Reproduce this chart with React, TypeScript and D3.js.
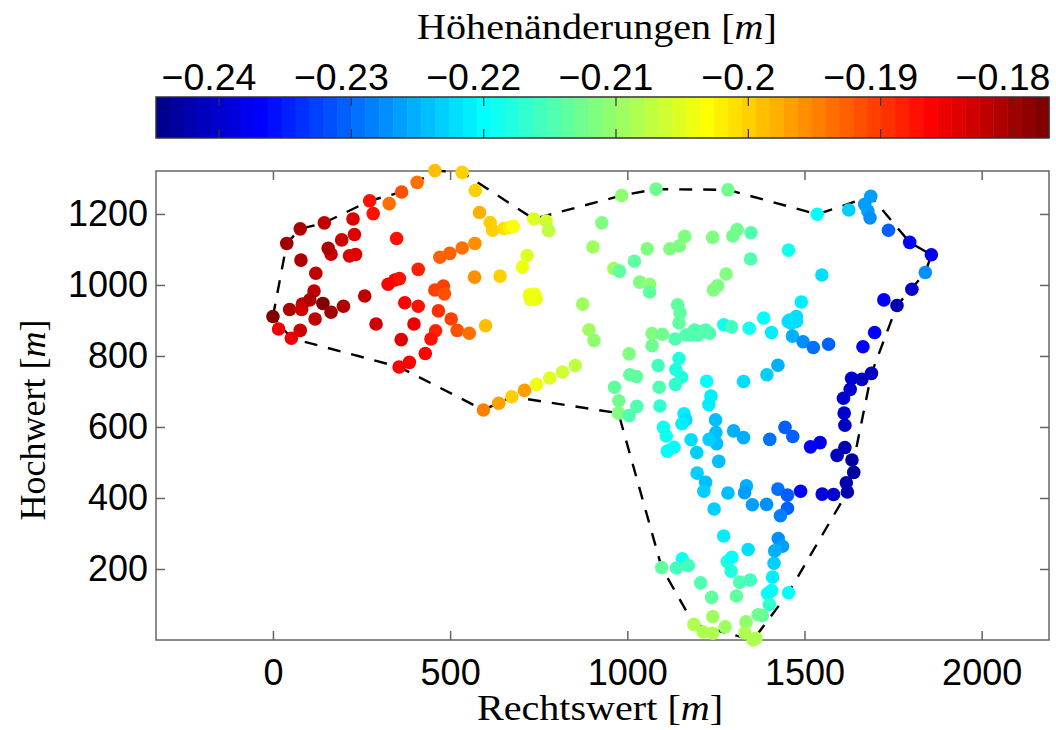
import React, { useEffect, useRef } from 'react';
import * as d3 from 'd3';

// Messpunkte: [Rechtswert, Hochwert, Hoehenaenderung]
const westPunkte: number[][] = [
  [457, 1322, -0.199], [534, 1317, -0.1995], [407, 1289, -0.194], [363, 1262, -0.192], [328, 1229, -0.194],
  [273, 1237, -0.187], [283, 1201, -0.187], [226, 1186, -0.184], [145, 1175, -0.182], [77, 1158, -0.181],
  [39, 1117, -0.18], [230, 1142, -0.184], [194, 1127, -0.183], [164, 1087, -0.183], [156, 1103, -0.1805],
  [216, 1082, -0.184], [233, 1086, -0.184], [79, 1070, -0.181], [121, 1033, -0.1815], [116, 983, -0.182],
  [83, 946, -0.1825], [104, 958, -0.1805], [47, 931, -0.181], [81, 931, -0.183], [141, 948, -0.178],
  [164, 923, -0.18], [199, 940, -0.1805], [119, 904, -0.182], [16, 876, -0.185], [77, 872, -0.1835],
  [52, 850, -0.185], [0, 911, -0.178], [259, 969, -0.1815], [291, 890, -0.183], [349, 1131, -0.187],
  [410, 1044, -0.188], [325, 1002, -0.186], [344, 1014, -0.186], [357, 1018, -0.187], [372, 950, -0.186],
  [410, 940, -0.187], [398, 890, -0.185], [362, 846, -0.1845], [459, 871, -0.188], [446, 848, -0.187],
  [430, 807, -0.186], [385, 782, -0.1865], [356, 769, -0.186], [467, 927, -0.189], [503, 904, -0.19],
  [520, 872, -0.191], [554, 864, -0.1935], [600, 885, -0.199], [457, 986, -0.19], [481, 997, -0.19],
  [484, 975, -0.192], [471, 1078, -0.1925], [499, 1089, -0.193], [534, 1104, -0.194], [570, 1117, -0.196],
  [569, 1022, -0.196], [641, 1025, -0.1995], [571, 1266, -0.1995], [583, 1204, -0.198], [613, 1176, -0.1995],
  [620, 1154, -0.1995], [652, 1159, -0.2015], [667, 1161, -0.2025], [678, 1165, -0.203], [736, 1186, -0.205],
  [717, 1083, -0.205], [704, 1051, -0.2045], [727, 959, -0.204], [739, 974, -0.204], [743, 961, -0.204],
  [724, 972, -0.204], [594, 648, -0.195], [637, 667, -0.197], [674, 685, -0.1995], [710, 703, -0.197],
  [744, 720, -0.2045], [781, 738, -0.2055], [817, 755, -0.206], [853, 773, -0.2075],
];

const mittePunkte: number[][] = [
  [771, 1180, -0.2065], [778, 1153, -0.207], [928, 1175, -0.2115], [903, 1107, -0.209], [984, 1252, -0.2105],
  [1081, 1270, -0.2125], [1284, 1268, -0.2125], [962, 1046, -0.209], [978, 1039, -0.214], [1020, 1067, -0.214],
  [1056, 1102, -0.2115], [1120, 1102, -0.2115], [1147, 1110, -0.2115], [1162, 1137, -0.2115], [1241, 1134, -0.2115],
  [1298, 1138, -0.2125], [1310, 1156, -0.2125], [1349, 1147, -0.215], [1348, 1073, -0.215], [1279, 1031, -0.2115],
  [1255, 998, -0.2115], [1243, 986, -0.2115], [1035, 1008, -0.2115], [1063, 1002, -0.2105], [1063, 980, -0.214],
  [1142, 944, -0.214], [1149, 921, -0.214], [1146, 893, -0.214], [874, 946, -0.209], [892, 874, -0.209],
  [906, 844, -0.2105], [1070, 863, -0.2115], [1099, 861, -0.2125], [1070, 829, -0.2125], [1005, 806, -0.2115],
  [1135, 848, -0.215], [1166, 859, -0.215], [1180, 859, -0.215], [1190, 873, -0.215], [1199, 859, -0.215],
  [1185, 866, -0.215], [1206, 868, -0.215], [1224, 868, -0.2145], [1232, 864, -0.2145], [1221, 873, -0.2145],
  [1272, 888, -0.2185], [1294, 882, -0.216], [1344, 878, -0.219], [1007, 747, -0.214], [1026, 742, -0.214],
  [964, 712, -0.214], [976, 674, -0.2125], [975, 639, -0.2115], [1027, 658, -0.215], [1005, 632, -0.215],
  [1092, 659, -0.2165], [1090, 712, -0.215], [1087, 773, -0.2155], [1146, 793, -0.2175], [1137, 762, -0.2175],
  [1153, 740, -0.2175], [1136, 720, -0.2165],
];

const ostPunkte: number[][] = [
  [1385, 907, -0.2205], [1407, 866, -0.2215], [1491, 952, -0.2215], [1458, 901, -0.2225], [1477, 911, -0.2225],
  [1463, 892, -0.2225], [1477, 897, -0.2225], [1454, 897, -0.2225], [1466, 856, -0.225], [1496, 840, -0.227],
  [1525, 824, -0.229], [1568, 833, -0.23], [1724, 958, -0.2365], [1761, 942, -0.242], [1698, 866, -0.237],
  [1665, 826, -0.237], [1689, 751, -0.2415], [1662, 734, -0.241], [1633, 737, -0.24], [1629, 706, -0.24],
  [1610, 681, -0.2395], [1612, 639, -0.24], [1614, 605, -0.241], [1614, 542, -0.242], [1592, 520, -0.2415],
  [1634, 507, -0.2435], [1639, 472, -0.2435], [1618, 443, -0.242], [1544, 556, -0.238], [1517, 544, -0.2365],
  [1467, 573, -0.231], [1445, 599, -0.231], [1402, 565, -0.229], [1328, 570, -0.225], [1300, 589, -0.225],
  [1536, 1199, -0.2195], [1625, 1211, -0.223], [1687, 1250, -0.2265], [1670, 1227, -0.2265], [1679, 1208, -0.226],
  [1685, 1189, -0.227], [1737, 1154, -0.23], [1797, 1120, -0.2365], [1858, 1085, -0.2375], [1841, 1035, -0.227],
  [1803, 988, -0.2395], [1455, 1098, -0.2185], [1549, 1028, -0.222], [1224, 729, -0.2205], [1236, 687, -0.2215],
  [1230, 663, -0.2215], [1328, 728, -0.222], [1394, 747, -0.2235], [1425, 774, -0.225],
];

const suedPunkte: number[][] = [
  [1249, 620, -0.224], [1250, 584, -0.224], [1252, 553, -0.224], [1231, 565, -0.223], [1258, 503, -0.224],
  [1196, 528, -0.223], [1180, 564, -0.222], [1197, 470, -0.223], [1221, 444, -0.224], [1160, 637, -0.2215],
  [1165, 620, -0.222], [1154, 609, -0.2215], [1102, 599, -0.2185], [1110, 575, -0.219], [1132, 543, -0.2195],
  [1113, 532, -0.2195], [1216, 419, -0.2235], [1284, 414, -0.2245], [1336, 434, -0.225], [1331, 415, -0.226],
  [1425, 425, -0.229], [1452, 408, -0.231], [1489, 419, -0.2365], [1550, 411, -0.2385], [1582, 410, -0.2395],
  [1621, 417, -0.242], [1353, 381, -0.226], [1393, 382, -0.227], [1452, 371, -0.23], [1432, 350, -0.2285],
  [1245, 369, -0.223], [1272, 293, -0.2215], [1341, 255, -0.222], [1426, 286, -0.227], [1438, 264, -0.2265],
  [1416, 251, -0.225], [1414, 216, -0.2235], [1410, 177, -0.2215], [1407, 139, -0.2205], [1396, 131, -0.2205],
  [1455, 133, -0.2195], [1401, 100, -0.2165], [1381, 69, -0.214], [1369, 71, -0.2125], [1335, 51, -0.2105],
  [1332, 20, -0.208], [1363, 5, -0.208], [1355, 0, -0.208], [1276, 37, -0.209], [1241, 66, -0.2095],
  [1188, 44, -0.208], [1214, 23, -0.208], [1241, 19, -0.208], [1238, 120, -0.214], [1308, 124, -0.214],
  [1207, 161, -0.215], [1317, 163, -0.215], [1347, 169, -0.216], [1293, 194, -0.218], [1282, 221, -0.2175],
  [1295, 233, -0.2205], [1155, 229, -0.2185], [1172, 210, -0.216], [1139, 203, -0.2155], [1097, 204, -0.214],
];

// gestrichelte Umrandung
const umrandung: number[][] = [
  [0, 911], [39, 1117], [77, 1158], [145, 1175], [273, 1237], [363, 1262], [457, 1322], [534, 1317],
  [736, 1186], [984, 1252], [1081, 1270], [1284, 1268], [1536, 1199], [1687, 1250], [1797, 1120], [1858, 1085],
  [1841, 1035], [1761, 942], [1689, 751], [1621, 417], [1455, 133], [1355, 0], [1188, 44], [1097, 204],
  [975, 639], [674, 685], [594, 648], [356, 769], [52, 850], [0, 911],
];

const xTicks = [0, 500, 1000, 1500, 2000];
const yTicks = [200, 400, 600, 800, 1000, 1200];
const cTicks = [-0.24, -0.23, -0.22, -0.21, -0.2, -0.19, -0.18];

const jet = (i: number, n: number) => {
  const t = (i + 1) / n;
  const c = (v: number) => Math.round(255 * Math.max(0, Math.min(1, v)));
  const f = (o: number) => c(Math.min(4 * t - o, -4 * t + o + 3));
  return d3.rgb(f(1.5), f(0.5), f(-0.5)).formatHex();
};

const App = () => {
  const ref = useRef<SVGSVGElement>(null);

  useEffect(() => {
    const svg = d3.select(ref.current);
    svg.selectAll('*').remove();

    const sans = '"Liberation Sans", Arial, sans-serif';
    const serif = '"Liberation Serif", serif';
    const plot = { left: 156, right: 1049, top: 171, bottom: 640 };
    const bar = { top: 97, bottom: 138 };

    const x = d3.scaleLinear().domain([-330, 2190]).range([plot.left, plot.right]);
    const y = d3.scaleLinear().domain([0, 1321]).range([plot.bottom, plot.top]);

    const jetColors = d3.range(64).map((i) => jet(i, 64));
    const color = d3.scaleQuantize<string>().domain([-0.24476, -0.17728]).range(jetColors);
    const cx = d3.scaleLinear().domain([-0.24476, -0.17728]).range([plot.left, plot.right]);
    const band = d3.scaleBand<number>().domain(d3.range(64)).range([plot.left, plot.right]);

    // Farbleiste
    svg.append('g')
      .selectAll('rect')
      .data(d3.range(64))
      .join('rect')
      .attr('x', (d) => band(d)!)
      .attr('y', bar.top)
      .attr('width', band.bandwidth() + 0.5)
      .attr('height', bar.bottom - bar.top)
      .attr('fill', (d) => jetColors[d]);

    svg.append('rect')
      .attr('x', plot.left)
      .attr('y', bar.top)
      .attr('width', plot.right - plot.left)
      .attr('height', bar.bottom - bar.top)
      .attr('fill', 'none')
      .attr('stroke', '#333')
      .attr('stroke-width', 1.5);

    const cAxis = svg.append('g');
    cTicks.forEach((t) => {
      const px = cx(t);
      cAxis.append('line').attr('x1', px).attr('x2', px).attr('y1', bar.top).attr('y2', bar.top + 9).attr('stroke', '#333').attr('stroke-width', 1.2);
      cAxis.append('line').attr('x1', px).attr('x2', px).attr('y1', bar.bottom).attr('y2', bar.bottom - 9).attr('stroke', '#333').attr('stroke-width', 1.2);
      cAxis.append('text')
        .attr('x', px - 10)
        .attr('y', 90)
        .attr('text-anchor', 'middle')
        .attr('font-family', sans)
        .attr('font-size', 37.5)
        .text(String(t).replace('-', '\u2212'));
    });

    // Rahmen
    svg.append('rect')
      .attr('x', plot.left)
      .attr('y', plot.top)
      .attr('width', plot.right - plot.left)
      .attr('height', plot.bottom - plot.top)
      .attr('fill', 'none')
      .attr('stroke', '#666')
      .attr('stroke-width', 1.5);

    const xAxis = svg.append('g')
      .attr('transform', `translate(0,${plot.bottom})`)
      .call(d3.axisBottom(x).tickValues(xTicks).tickSize(-9).tickPadding(19).tickFormat(d3.format('d') as any));
    const xAxisTop = svg.append('g')
      .attr('transform', `translate(0,${plot.top})`)
      .call(d3.axisTop(x).tickValues(xTicks).tickSize(-9).tickFormat(() => ''));
    const yAxis = svg.append('g')
      .attr('transform', `translate(${plot.left},0)`)
      .call(d3.axisLeft(y).tickValues(yTicks).tickSize(-9).tickPadding(8).tickFormat(d3.format('d') as any));
    const yAxisRight = svg.append('g')
      .attr('transform', `translate(${plot.right},0)`)
      .call(d3.axisRight(y).tickValues(yTicks).tickSize(-9).tickFormat(() => ''));

    [xAxis, xAxisTop, yAxis, yAxisRight].forEach((a) => {
      a.select('.domain').remove();
      a.selectAll('line').attr('stroke', '#666').attr('stroke-width', 1.5);
      a.selectAll('text')
        .attr('font-family', sans)
        .attr('font-size', 36)
        .attr('fill', '#000');
    });

    // Umrandung
    const line = d3.line<number[]>().x((d) => x(d[0])).y((d) => y(d[1]));
    svg.append('path')
      .datum(umrandung)
      .attr('d', line)
      .attr('fill', 'none')
      .attr('stroke', '#000')
      .attr('stroke-width', 2.4)
      .attr('stroke-dasharray', '13 11');

    // Punkte
    const punkte = [...westPunkte, ...mittePunkte, ...ostPunkte, ...suedPunkte];
    svg.append('g')
      .selectAll('circle')
      .data(punkte)
      .join('circle')
      .attr('cx', (d) => x(d[0]))
      .attr('cy', (d) => y(d[1]))
      .attr('r', 6.8)
      .attr('fill', (d) => color(d[2]));

    // Beschriftungen: das Original ist horizontal leicht gestreckt
    const label = (text: string, px: number, py: number, rotate = 0, stretch = 1.115) => {
      const t = svg.append('text')
        .attr('transform', `translate(${px},${py}) rotate(${rotate}) scale(${stretch},1)`)
        .attr('text-anchor', 'middle')
        .attr('font-family', serif)
        .attr('font-size', 36)
        .attr('fill', '#000');
      t.append('tspan').text(`${text} [`);
      t.append('tspan').attr('font-style', 'italic').text('m');
      t.append('tspan').text(']');
    };
    label('Höhenänderungen', 597, 39);
    label('Rechtswert', 600, 720);
    label('Hochwert', 45, 420, -90, 1);
  }, []);

  return (
    <svg
      ref={ref}
      width={1056}
      height={730}
      style={{ position: 'absolute', left: 0, top: 0, background: '#fff' }}
    />
  );
};

export default App;
